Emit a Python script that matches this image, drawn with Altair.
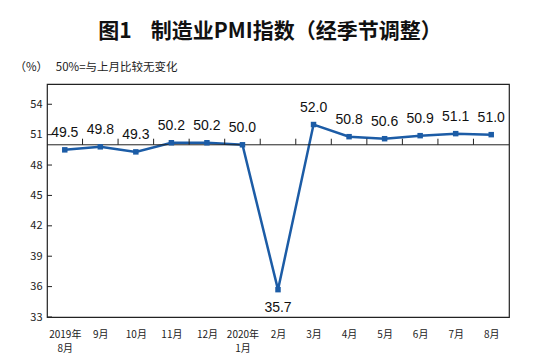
import altair as alt
import pandas as pd
import json

months = ["2019年|8月", "9月", "10月", "11月", "12月", "2020年|1月", "2月",
          "3月", "4月", "5月", "6月", "7月", "8月"]
pmi = [49.5, 49.8, 49.3, 50.2, 50.2, 50.0, 35.7, 52.0, 50.8, 50.6, 50.9, 51.1, 51.0]
label_pos = ["above"] * 6 + ["below"] + ["above"] * 6
y_ticks = [33, 36, 39, 42, 45, 48, 51, 54]
boundaries = [i + 0.5 for i in range(12)]
ref_level = 50

BLUE = "#1c5ca6"
FONT = "Noto Sans CJK SC"
NUMFONT = "Liberation Sans"

df = pd.DataFrame({"idx": list(range(len(months))), "pmi": pmi, "pos": label_pos,
                   "lab": [f"{v:.1f}" for v in pmi]})
ticks_df = pd.DataFrame({"pmi": y_ticks})
fifty_df = pd.DataFrame({"pmi": [ref_level]})
bound_df = pd.DataFrame({"idx": boundaries, "pmi": [ref_level] * len(boundaries),
                         "pmi2": [ref_level + 0.6] * len(boundaries)})

label_expr = "split(" + json.dumps(months, ensure_ascii=False) + "[datum.value], '|')"

xscale = alt.Scale(domain=[-0.5, len(months) - 0.5], nice=False, zero=False)
yscale = alt.Scale(domain=[33, 56], nice=False, zero=False)

xaxis = alt.Axis(values=list(range(len(months))), labelExpr=label_expr,
                 title=None, grid=False, domain=False, ticks=False, tickSize=0,
                 labelOverlap=False,
                 labelPadding=12, labelFont=FONT, labelFontSize=10,
                 labelColor="#222", labelLineHeight=14, labelBaseline="top")
yaxis = alt.Axis(values=y_ticks, grid=False, domain=False, ticks=False,
                 labelOverlap=False,
                 labelPadding=5, labelFont=FONT, labelFontSize=11, labelColor="#222",
                 title="（%）" + " " + "\u00a0" * 2 + "50%=与上月比较无变化",
                 titleAngle=0, titleAlign="left",
                 titleBaseline="middle", titleX=-33, titleY=-17,
                 titleFont=FONT, titleFontSize=11.5, titleFontWeight="normal",
                 titleColor="#222")

X = alt.X("idx:Q", scale=xscale, axis=xaxis)
Y = alt.Y("pmi:Q", scale=yscale, axis=yaxis)

base = alt.Chart(df)

line = base.mark_line(color=BLUE, strokeWidth=2.5).encode(x=X, y=Y)
points = base.mark_point(shape="square", filled=True, size=30, color=BLUE, opacity=1).encode(
    x=X, y=Y)

text_above = base.transform_filter("datum.pos == 'above'").mark_text(
    font=NUMFONT, fontSize=14, color="#111", dy=-17, baseline="middle").encode(
    x=X, y=Y, text="lab:N")
text_below = base.transform_filter("datum.pos == 'below'").mark_text(
    font=NUMFONT, fontSize=14, color="#111", dy=18, baseline="middle").encode(
    x=X, y=Y, text="lab:N")

fifty = alt.Chart(fifty_df).mark_rule(color="#222", strokeWidth=1).encode(
    y=Y, x=alt.value(0), x2=alt.value(462))

bticks = alt.Chart(bound_df).mark_rule(color="#222", strokeWidth=1).encode(
    x=X, y=Y, y2="pmi2:Q")

yticks = alt.Chart(ticks_df).mark_rule(color="#222", strokeWidth=1).encode(
    y=Y, x=alt.value(0), x2=alt.value(5))

chart = alt.layer(line, fifty, bticks, yticks, points, text_above, text_below).properties(
    width=462, height=233,
    autosize=alt.AutoSizeParams(type="none"),
    padding={"left": 39, "top": 76, "right": 34, "bottom": 37},
    title=alt.TitleParams("图1" + "\u00a0" * 3 + " 制造业PMI指数（经季节调整）", font=FONT,
                          fontSize=21, fontWeight="bold", color="#111", anchor="middle",
                          offset=19, dx=-8),
    background="white",
).configure_view(stroke="#222", strokeWidth=1.2)

chart.save("out.html", embed_options={"renderer": "svg", "actions": False})
